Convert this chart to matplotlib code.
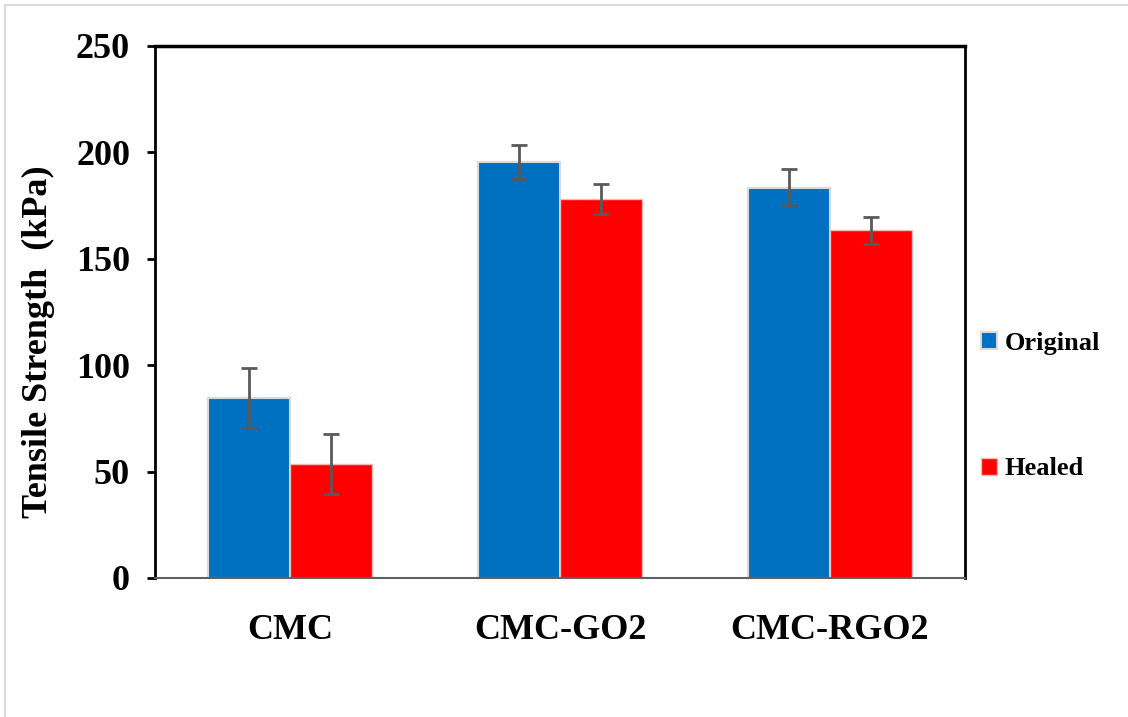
import numpy as np
import matplotlib
matplotlib.use("Agg")
import matplotlib.pyplot as plt
from matplotlib.lines import Line2D

# ---------------- DATA ----------------
samples = ["CMC", "CMC-GO2", "CMC-RGO2"]
original = [84.5, 195.5, 183.5]
original_err = [14, 8, 8.5]
healed = [53.5, 178, 163.3]
healed_err = [14, 7, 6.5]
# --------------------------------------

plt.rcParams["font.family"] = ["Liberation Serif", "DejaVu Serif"]
plt.rcParams["font.weight"] = "bold"

fig = plt.figure(figsize=(11.28, 7.17), dpi=100)
ax = fig.add_axes([155 / 1128, 1 - 578 / 717, 810 / 1128, 532 / 717])

x = np.arange(len(samples))
w = 0.303
err_kw = dict(ecolor="#595959", elinewidth=2, capsize=6, capthick=2)
ax.bar(x - w / 2, original, w, yerr=original_err, color="#0070C0",
       edgecolor="#D9D9D9", linewidth=1.5, label="Original", error_kw=err_kw)
ax.bar(x + w / 2, healed, w, yerr=healed_err, color="#FF0000",
       edgecolor="#F2B8B8", linewidth=1, label="Healed", error_kw=err_kw)

ax.set_xlim(-0.5, 2.5)
ax.set_ylim(0, 250)
ax.set_yticks([0, 50, 100, 150, 200, 250])
ax.set_xticks(x)
ax.set_xticklabels(samples, fontsize=26, fontweight="bold")
ax.tick_params(axis="y", labelsize=26, length=6, width=2, direction="out", pad=12)
ax.tick_params(axis="x", length=0, pad=26)
for lab in ax.get_yticklabels():
    lab.set_fontweight("bold")

for s in ["left", "right"]:
    ax.spines[s].set_linewidth(2)
    ax.spines[s].set_color("black")
ax.spines["top"].set_linewidth(2.5)
ax.spines["bottom"].set_color("#606060")
ax.spines["bottom"].set_linewidth(1.5)

ax.set_ylabel("Tensile Strength  (kPa)", fontsize=26, fontweight="bold")
ax.yaxis.set_label_coords(-0.123, 0.445)

fig.legend(loc="center left", bbox_to_anchor=(981 / 1128, 1 - 406 / 717),
           frameon=False, borderpad=0, borderaxespad=0, handlelength=0.6,
           handleheight=0.6, handletextpad=0.3, labelspacing=3.9,
           prop={"weight": "bold", "size": 19})

# thin grey screenshot border
fig.add_artist(Line2D([5 / 1128, 1], [1 - 5 / 717, 1 - 5 / 717], color="#D9D9D9", lw=1.5))
fig.add_artist(Line2D([5 / 1128, 5 / 1128], [0, 1 - 5 / 717], color="#D9D9D9", lw=1.5))

fig.savefig("out.png", dpi=100)
